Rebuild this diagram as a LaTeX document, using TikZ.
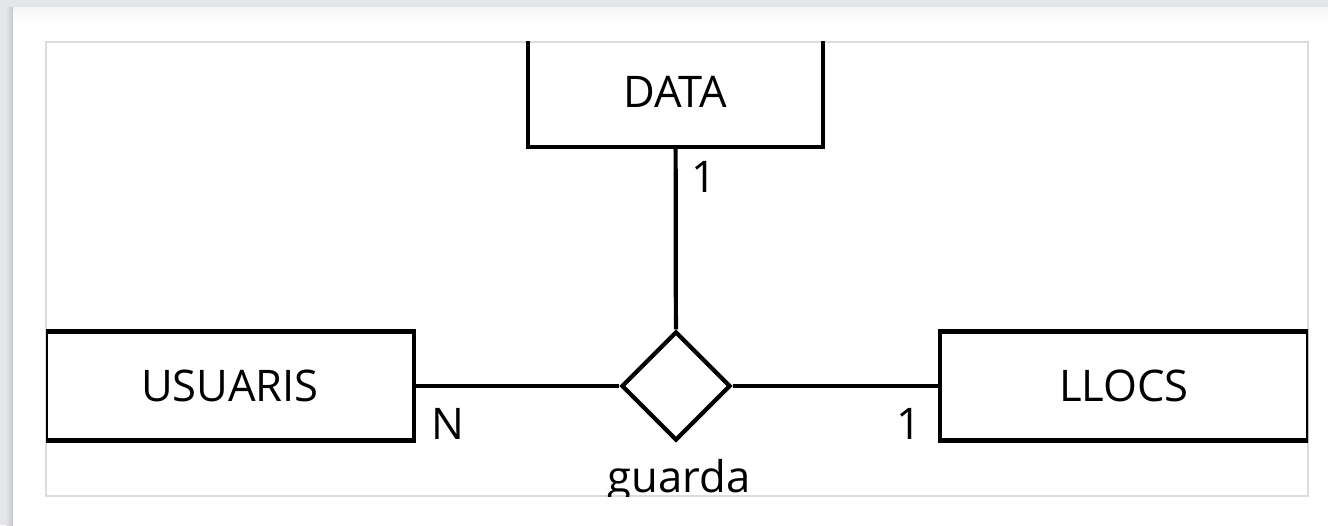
\documentclass[tikz,border=0pt]{standalone}
\usepackage{fontspec}
\setmainfont{Open Sans}
\usetikzlibrary{shapes.geometric}
\definecolor{bggray}{HTML}{E4E6EA}
\definecolor{shadowgray}{HTML}{C4C6CB}
\definecolor{framegray}{HTML}{DCDCDC}
\begin{document}
\begin{tikzpicture}[font=\fontsize{12.4}{15}\selectfont,
    entity/.style={draw, line width=1.2pt, inner sep=0pt},
    relation/.style={draw, diamond, line width=1.2pt, inner sep=0pt,
      minimum width=1.09cm, minimum height=1.09cm},
    link/.style={line width=1.2pt},
    card/.style={anchor=base, inner sep=0pt}]

    \useasboundingbox (0,0) rectangle (13.28,5.25);

    % screen background
    \fill[bggray] (0,0) rectangle (13.28,5.25);
    \fill[left color=bggray, right color=shadowgray] (0.06,0) rectangle (0.13,5.17);
    \fill[white] (0.13,0) rectangle (13.28,5.17);
    \fill[top color=bggray!40, bottom color=white] (0.13,5.02) rectangle (13.28,5.17);

    % frame
    \draw[framegray, line width=0.6pt] (0.46,0.29) rectangle (13.08,4.83);

    \begin{scope}
        \clip (0.46,0.29) rectangle (13.08,4.83);

        % entities and relation
        \node[entity, minimum width=2.95cm, minimum height=1.10cm] (data) at (6.755,4.33) {DATA};
        \node[entity, minimum width=3.68cm, minimum height=1.09cm] (usuaris) at (2.30,1.39) {USUARIS};
        \node[entity, minimum width=3.68cm, minimum height=1.09cm] (llocs) at (11.24,1.39) {LLOCS};
        \node[relation] (guarda) at (6.76,1.39) {};

        % connectors
        \draw[link] (data) -- (guarda);
        \draw[link] (usuaris) -- (guarda);
        \draw[link] (guarda) -- (llocs);

        % labels
        \node[card] (cdata) at (7.04,3.32) {1};
        \node[card] (cusuaris) at (4.48,0.86) {N};
        \node[card] (cllocs) at (9.09,0.86) {1};
        \node[card] (lguarda) at (6.79,0.33) {guarda};
    \end{scope}

\end{tikzpicture}
\end{document}
